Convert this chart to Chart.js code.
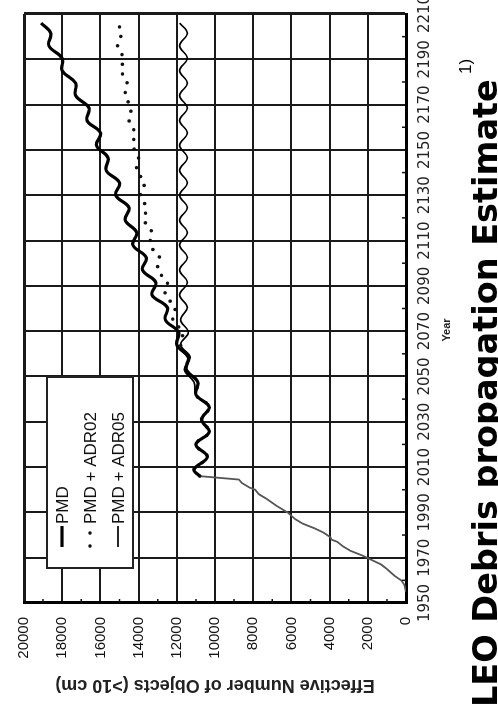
<!DOCTYPE html>
<html>
<head>
<meta charset="utf-8">
<title>LEO Debris propagation Estimate</title>
<script src="https://cdn.jsdelivr.net/npm/chart.js@4.4.1/dist/chart.umd.min.js"></script>
<style>
  html, body { margin: 0; padding: 0; background: #fff; overflow: hidden; }
  /* the whole figure is turned a quarter turn to the left, like the scan;
     the last 20px of the canvas fall off the top of the page */
  #wrap {
    position: absolute; left: 0; top: 0;
    width: 740px; height: 498px;
    transform-origin: 0 0;
    transform: translate(0, 720px) rotate(-90deg);
  }
</style>
</head>
<body>
<div id="wrap"><canvas id="debrisChart" width="740" height="498"></canvas></div>
<script>
// historical count (grey line)
var histYears  = [1955, 1958, 1960, 1962, 1965, 1967, 1969, 1971, 1973, 1975, 1977, 1978, 1979, 1981, 1983, 1985, 1987, 1990, 1993, 1996, 1998, 2000, 2001, 2003, 2004.5, 2006];
var histValues = [0, 80, 250, 600, 1000, 1300, 1800, 2300, 2900, 3300, 3600, 3900, 3950, 4300, 4800, 5400, 5800, 6200, 6800, 7300, 7700, 7900, 8200, 8600, 8750, 10800];

// projections (one shared year axis)
var projYears = [2006, 2009, 2014.5, 2020, 2025.5, 2031, 2036.5, 2042, 2047.5, 2053, 2058.5, 2064, 2069.5, 2075, 2080.5, 2086, 2091.5, 2097, 2102.5, 2108, 2113.5, 2119, 2124.5, 2130, 2135.5, 2141, 2146.5, 2152, 2157.5, 2163, 2168.5, 2174, 2179.5, 2185, 2190.5, 2196, 2201.5, 2206];
var pmd      = [10800, 11100, 10400, 11000, 10300, 10700, 10300, 11000, 10900, 11500, 11400, 12000, 11900, 12600, 12500, 13300, 13100, 13800, 13600, 14300, 14100, 14700, 14500, 15200, 15000, 15700, 15600, 16200, 16000, 16700, 16600, 17300, 17300, 18000, 18000, 18700, 18600, 19100];
var pmdAdr02 = [10800, 11100, 10400, 11000, 10300, 10700, 10300, 11000, 10900, 11500, 11400, 11800, 11700, 12200, 12100, 12600, 12500, 13000, 12900, 13400, 13300, 13700, 13600, 13900, 13700, 14100, 14000, 14300, 14200, 14500, 14400, 14700, 14600, 14900, 14800, 15100, 14900, 15100];
var pmdAdr05 = [10800, 11100, 10400, 11000, 10300, 10700, 10300, 11000, 11100, 11600, 11300, 11800, 11400, 11800, 11450, 11850, 11450, 11850, 11450, 11850, 11450, 11850, 11450, 11850, 11450, 11850, 11450, 11850, 11450, 11850, 11450, 11850, 11450, 11850, 11450, 11850, 11450, 11850];

var yearTicks = { min: 1950, max: 2210, step: 20 };
var countTicks = { min: 0, max: 20000, step: 2000 };

function pts(xs, ys) {
  return xs.map(function (x, i) { return { x: x, y: ys[i] }; });
}

// small inward ticks half way between the grid lines
var minorTicks = {
  id: 'minorTicks',
  afterDatasetsDraw: function (chart) {
    var ctx = chart.ctx, a = chart.chartArea;
    var x = chart.scales.x, y = chart.scales.y;
    ctx.save();
    ctx.strokeStyle = '#111';
    ctx.lineWidth = 1.5;
    ctx.beginPath();
    for (var yr = yearTicks.min + yearTicks.step / 2; yr < yearTicks.max; yr += yearTicks.step) {
      var px = x.getPixelForValue(yr);
      ctx.moveTo(px, a.bottom); ctx.lineTo(px, a.bottom - 4);
    }
    for (var v = countTicks.step / 2; v < countTicks.max; v += countTicks.step) {
      var py = y.getPixelForValue(v);
      ctx.moveTo(a.left, py); ctx.lineTo(a.left + 4, py);
    }
    ctx.stroke();
    ctx.restore();
  }
};

// boxed legend in the upper left of the plot
var boxLegend = {
  id: 'boxLegend',
  afterDraw: function (chart) {
    var ctx = chart.ctx;
    var sets = chart.data.datasets.filter(function (d) { return d.label; });
    ctx.save();
    ctx.fillStyle = '#fff';
    ctx.strokeStyle = '#222';
    ctx.lineWidth = 2;
    ctx.fillRect(152, 47, 191, 86);
    ctx.strokeRect(152, 47, 191, 86);
    ctx.font = '17px "Liberation Sans", Arial, sans-serif';
    ctx.textBaseline = 'middle';
    ctx.fillStyle = '#111';
    sets.forEach(function (d, i) {
      var ry = 62 + i * 28;
      ctx.beginPath();
      ctx.lineWidth = d.borderWidth;
      ctx.strokeStyle = d.borderColor;
      if (d.borderDash) {
        ctx.setLineDash([0, 13]);
        ctx.lineCap = 'round';
        ctx.moveTo(174, ry); ctx.lineTo(188, ry);
      } else {
        ctx.setLineDash([]);
        ctx.lineCap = 'butt';
        ctx.moveTo(173, ry); ctx.lineTo(194, ry);
      }
      ctx.stroke();
      ctx.fillText(d.label, 196, ry + 1);
    });
    ctx.restore();
  }
};

// axis name "Year" (sits a little left of centre in the scan) and the big caption
var captions = {
  id: 'captions',
  afterDraw: function (chart) {
    var ctx = chart.ctx;
    ctx.save();
    ctx.fillStyle = '#222';
    ctx.textAlign = 'center';
    ctx.textBaseline = 'middle';
    ctx.font = 'bold 11px "Liberation Sans", Arial, sans-serif';
    ctx.fillText('Year', 390, 447);
    ctx.fillStyle = '#000';
    ctx.textAlign = 'left';
    ctx.textBaseline = 'alphabetic';
    ctx.font = 'bold 33.5px "DejaVu Sans", sans-serif';
    ctx.fillText('LEO Debris propagation Estimate', 13, 497);
    ctx.font = '17px "Liberation Sans", Arial, sans-serif';
    ctx.fillText('1)', 646, 471);
    ctx.restore();
  }
};

new Chart('debrisChart', {
  type: 'line',
  data: {
    datasets: [
      { label: 'PMD', data: pts(projYears, pmd), borderColor: '#000', borderWidth: 3.2, tension: 0.4 },
      { label: 'PMD + ADR02', data: pts(projYears, pmdAdr02), borderColor: '#111', borderWidth: 3.6,
        borderDash: [0, 10], borderCapStyle: 'round', tension: 0.4 },
      { label: 'PMD + ADR05', data: pts(projYears, pmdAdr05), borderColor: '#000', borderWidth: 1.7, tension: 0.4 },
      { label: '', data: pts(histYears, histValues), borderColor: '#555', borderWidth: 1.8, tension: 0 }
    ]
  },
  options: {
    responsive: false,
    animation: false,
    elements: { point: { radius: 0 } },
    layout: { padding: { left: 0, right: 34, top: 24, bottom: 40 } },
    plugins: {
      legend: { display: false },
      tooltip: { enabled: false }
    },
    scales: {
      x: {
        type: 'linear',
        min: yearTicks.min, max: yearTicks.max,
        afterFit: function (s) { s.height = 52; },
        ticks: {
          stepSize: yearTicks.step,
          callback: function (v) { return String(v); },
          color: '#222',
          padding: 10,
          maxRotation: 0,
          autoSkip: false,
          font: { family: '"DejaVu Sans", sans-serif', size: 15 }
        },
        grid: {
          drawTicks: false,
          color: '#1a1a1a',
          lineWidth: function (c) { return c.tick && c.tick.value === yearTicks.max ? 3 : 2; }
        },
        border: { display: true, color: '#000', width: 3 }
      },
      y: {
        min: countTicks.min, max: countTicks.max,
        afterFit: function (s) { s.width = 117; },
        ticks: {
          stepSize: countTicks.step,
          callback: function (v) { return String(v); },
          color: '#111',
          padding: 14,
          font: { family: '"Liberation Sans", Arial, sans-serif', size: 15 }
        },
        grid: {
          drawTicks: false,
          color: '#1a1a1a',
          lineWidth: function (c) { return c.tick && c.tick.value === countTicks.max ? 3 : 2; }
        },
        border: { display: true, color: '#000', width: 3 },
        title: {
          display: true, text: 'Effective Number of Objects (>10 cm)', color: '#222',
          font: { family: '"Liberation Sans", Arial, sans-serif', size: 18, weight: 'bold' },
          padding: { top: 24, bottom: 10 }
        }
      }
    }
  },
  plugins: [minorTicks, boxLegend, captions]
});
</script>
</body>
</html>
